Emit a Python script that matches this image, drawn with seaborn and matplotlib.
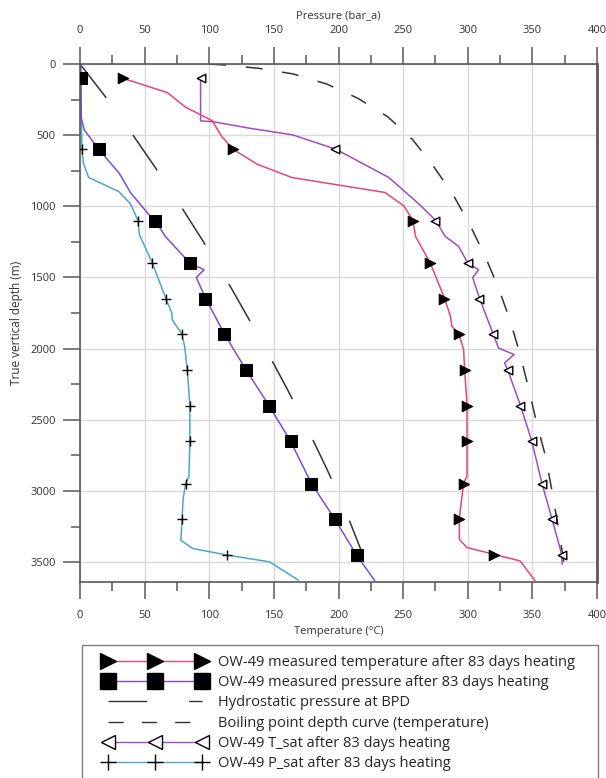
import numpy as np
import pandas as pd
import seaborn as sns
import matplotlib.pyplot as plt
from matplotlib.lines import Line2D
from matplotlib.patches import Rectangle
from matplotlib.ticker import MultipleLocator

# marker depths (m)
mark_depth = [100, 600, 1100, 1400, 1650, 1900, 2150, 2400, 2650, 2950, 3200, 3450]
temp_mark = [33, 118, 257.5, 271, 282, 293, 297.6, 299.4, 299.4, 296.8, 293.5, 320.4]
pres_mark = [0.5, 14.4, 58, 85, 97, 111.6, 128.5, 146, 163, 179, 197, 214]
tsat_mark = [93.3, 197.4, 275, 300, 309, 319.4, 330.8, 340.5, 349.5, 357.3, 365, 372.7]
psat_mark = [0.8, 1.5, 44.7, 56, 66.3, 78.7, 83, 85, 85, 81.7, 79, 114]

# measured temperature profile
temp_depth = [100, 201, 304, 398, 505, 599, 704, 798, 873, 903, 997, 1097, 1212, 1399,
              1644, 1773, 1843, 1895, 2007, 2147, 2393, 2648, 2896, 2945, 3191, 3340,
              3398, 3446, 3492, 3630]
temp_val = [33, 67.6, 81.7, 102.3, 109.3, 118.3, 137, 164, 215.4, 236, 250.6, 257.5,
            259.6, 271, 282, 286.6, 287.7, 293, 296.8, 297.6, 299.4, 299.4, 299.4,
            296.8, 293.5, 293.5, 299.4, 320.4, 340.5, 352]

# measured pressure profile
pres_depth = [0, 380, 463, 599, 767, 907, 1060, 1097, 1212, 1399, 1446, 1500, 1644,
              1895, 2150, 2396, 2652, 2947, 3196, 3451, 3630]
pres_val = [0.5, 1, 3.3, 14.4, 30.3, 39.3, 53.5, 58, 66, 85, 96, 90, 97, 111.6,
            128.5, 146, 163, 179, 197, 214, 228]

# saturation pressure
psat_depth = [0, 380, 599, 697, 798, 896, 982, 1097, 1200, 1399, 1644, 1750, 1800,
              1895, 1986, 2150, 2396, 2652, 2900, 2947, 3064, 3196, 3346, 3404, 3451,
              3498, 3627]
psat_val = [0.5, 1, 1.5, 2.6, 6.7, 30, 39, 44.7, 46, 56, 66.3, 71, 71.5, 78.7, 81,
            83, 85, 85, 84.3, 81.7, 79.7, 79, 78, 87, 114, 146.5, 169]

# saturation temperature
tsat_depth = [100, 400, 405, 451, 498, 599, 798, 982, 1097, 1212, 1282, 1399, 1446,
              1500, 1644, 1895, 1996, 2042, 2101, 2147, 2393, 2648, 2943, 3191, 3446, 3516]
tsat_val = [93.3, 93.3, 102.8, 131, 164.5, 198, 239, 262, 275, 282.6, 293, 300, 308.4,
            303.8, 309, 319.6, 323.8, 335.9, 328.4, 330.8, 340.5, 349.5, 357.3, 365,
            372.7, 373]

# hydrostatic pressure at BPD
hyd_depth = [0, 234, 487, 732, 985, 1242, 1504, 1766, 2033, 2296, 2572, 2846, 3125, 3399, 3450]
hyd_val = [0, 20, 40, 58.6, 77, 95, 112.6, 129, 145.5, 161, 176.5, 191, 204.8, 216.7, 219]

# boiling point depth curve
bpd_depth = [0, 7, 30, 70, 141, 241, 370, 533, 725, 924, 1137, 1352, 1579, 1808, 2042,
             2275, 2510, 2751, 2990, 3228, 3481, 3635]
bpd_val = [100, 112, 138, 165, 191, 215, 238, 257.5, 274, 289, 302, 313.5, 324, 333,
           340.5, 347, 353, 360, 365, 369.5, 374, 375.6]

labels = ['OW-49 measured temperature after 83 days heating',
          'OW-49 measured pressure after 83 days heating',
          'Hydrostatic pressure at BPD',
          'Boiling point depth curve (temperature)',
          'OW-49 T_sat after 83 days heating',
          'OW-49 P_sat after 83 days heating']

c_temp = '#e3467a'
c_pres = '#7a4fd6'
c_tsat = '#a04cbf'
c_psat = '#4aa6cc'

sns.set_style('white')
plt.rcParams['font.family'] = ['Open Sans', 'DejaVu Sans']

fig = plt.figure(figsize=(6.06, 7.78), dpi=100)
W, H = 606, 778
ax = fig.add_axes([80 / W, 1 - 582 / H, 517 / W, 518 / H])

def line(xv, yv, color, **kw):
    sns.lineplot(x=xv, y=yv, sort=False, estimator=None, color=color, ax=ax,
                 legend=False, **kw)

line(hyd_val, hyd_depth, '#333333', lw=1.1)
ax.lines[-1].set_dashes((28, 30))
line(bpd_val, bpd_depth, '#333333', lw=1.1)
ax.lines[-1].set_dashes((11, 13))
line(psat_val, psat_depth, c_psat, lw=1.1)
line(pres_val, pres_depth, c_pres, lw=1.1)
line(tsat_val, tsat_depth, c_tsat, lw=1.1)
line(temp_val, temp_depth, c_temp, lw=1.1)

sns.scatterplot(x=psat_mark, y=mark_depth, marker='+', s=60, color='k',
                linewidth=1, ax=ax, zorder=5)
sns.scatterplot(x=pres_mark, y=mark_depth, marker='s', s=75, color='k',
                edgecolor='k', ax=ax, zorder=5)
sns.scatterplot(x=tsat_mark, y=mark_depth, marker='<', s=38, facecolor='white',
                edgecolor='k', linewidth=1, ax=ax, zorder=5)
sns.scatterplot(x=temp_mark, y=mark_depth, marker='>', s=60, color='k',
                edgecolor='k', ax=ax, zorder=5)

ax.set_xlim(0, 400)
ax.set_ylim(3640, 0)
ax.xaxis.set_major_locator(MultipleLocator(50))
ax.xaxis.set_minor_locator(MultipleLocator(25))
ax.yaxis.set_major_locator(MultipleLocator(500))
ax.yaxis.set_minor_locator(MultipleLocator(250))
ax.grid(True, which='major', color='#d9d9d9', lw=1)
ax.set_axisbelow(True)

tick_kw = dict(direction='out', color='#595959', labelsize=8, labelcolor='#333333')
ax.tick_params(which='major', length=12.5, width=1.1, pad=8, **tick_kw)
ax.tick_params(which='minor', length=6.5, width=1.1, **tick_kw)
ax.tick_params(axis='x', which='both', top=True, labeltop=True, bottom=True)
ax.tick_params(axis='y', which='both', left=True)
ax.tick_params(axis='y', which='major', pad=5)

for side, sp in ax.spines.items():
    sp.set_color('#595959')
    sp.set_linewidth(1.2)
ax.spines['right'].set_linewidth(2)

ax.set_xlabel('Temperature (°C)', fontsize=8, color='#333333', labelpad=3)
ax.set_ylabel('True vertical depth (m)', fontsize=8.5, color='#333333', labelpad=5)
fig.text(338.5 / W, 1 - 16 / H, 'Pressure (bar_a)', fontsize=8, color='#333333',
         ha='center', va='center')

# legend
handles = [
    Line2D([], [], color=c_temp, lw=1, marker='>', markersize=11, mfc='k', mec='k'),
    Line2D([], [], color=c_pres, lw=1, marker='s', markersize=12, mfc='k', mec='k'),
    Line2D([], [], color='#333333', lw=1, dashes=(28, 30)),
    Line2D([], [], color='#333333', lw=1, dashes=(11, 13)),
    Line2D([], [], color=c_tsat, lw=1, marker='<', markersize=10, mfc='white', mec='k'),
    Line2D([], [], color=c_psat, lw=1, marker='+', markersize=11, mec='k', mew=1),
]
fig.add_artist(Rectangle((82 / W, -0.02), 516 / W, 1 - 645 / H + 0.02,
                         transform=fig.transFigure, fill=False, ec='#7f7f7f', lw=1))
leg = fig.legend(handles, labels, loc='upper left',
                 bbox_to_anchor=(104 / W, 1 - 655 / H), frameon=False,
                 numpoints=3, handlelength=7.0, handletextpad=0.8,
                 fontsize=10.5, labelspacing=0.36, borderaxespad=0, borderpad=0)

fig.savefig('out.png', dpi=100)
